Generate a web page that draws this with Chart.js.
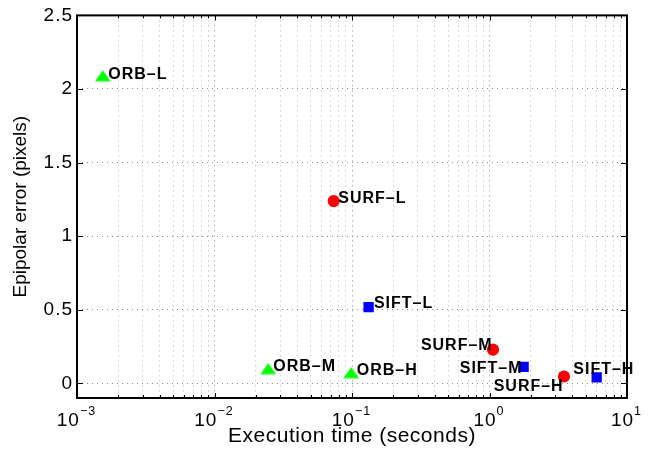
<!DOCTYPE html>
<html>
<head>
<meta charset="utf-8">
<script src="https://cdn.jsdelivr.net/npm/chart.js@4.4.1/dist/chart.umd.min.js"></script>
<style>
  html, body { margin: 0; padding: 0; background: #ffffff; }
  #c { display: block; }
</style>
</head>
<body>
<canvas id="c" width="662" height="453"></canvas>
<script>
// ---------------- data ----------------
const orbLabels  = ['ORB–L', 'ORB–M', 'ORB–H'];
const orbTime    = [0.00154, 0.0246, 0.0987];
const orbError   = [2.09, 0.100, 0.073];

const surfLabels = ['SURF–L', 'SURF–M', 'SURF–H'];
const surfTime   = [0.0736, 1.06, 3.48];
const surfError  = [1.238, 0.229, 0.046];

const siftLabels = ['SIFT–L', 'SIFT–M', 'SIFT–H'];
const siftTime   = [0.132, 1.77, 6.02];
const siftError  = [0.517, 0.112, 0.040];

const yTickValues      = [0, 0.5, 1, 1.5, 2, 2.5];
const xDecadeExponents = [-3, -2, -1, 0, 1];
const xAxisTitle = 'Execution time (seconds)';
const yAxisTitle = 'Epipolar error (pixels)';

// ---------------- styles ----------------
const FONT = '"Liberation Sans", Arial, Helvetica, sans-serif';
const majorGrid = '#8c8c8c';
const minorGrid = '#b4b4b4';
const labelPlacement = [
  [{dx: 5.4, dy: -2.2, align: 'left'}, {dx: 5.0, dy: -3.4, align: 'left'}, {dx: 5.5, dy: -3.3, align: 'left'}],
  [{dx: 4.6, dy: -4.2, align: 'left'}, {dx: -1.3, dy: -5.0, align: 'right'}, {dx: -1.3, dy: 8.7, align: 'right'}],
  [{dx: 5.3, dy: -5.0, align: 'left'}, {dx: -2.0, dy: 0.5, align: 'right'}, {dx: -23.4, dy: -9.1, align: 'left'}]
];
const pointLabels = [orbLabels, surfLabels, siftLabels];

// log-axis tick positions (1..9 per decade)
const xTickValues = [];
for (let i = 0; i < xDecadeExponents.length - 1; i++) {
  for (let m = 1; m <= 9; m++) xTickValues.push(Number((m * Math.pow(10, xDecadeExponents[i])).toPrecision(6)));
}
xTickValues.push(Math.pow(10, xDecadeExponents[xDecadeExponents.length - 1]));
const isDecade = v => Math.abs(Math.log10(v) - Math.round(Math.log10(v))) < 1e-9;

function triangleMarker(color, w, h) {
  const c = document.createElement('canvas');
  c.width = w; c.height = h;
  const g = c.getContext('2d');
  g.fillStyle = color;
  g.beginPath();
  g.moveTo(w / 2, 0.5);
  g.lineTo(w - 0.2, h - 0.5);
  g.lineTo(0.2, h - 0.5);
  g.closePath();
  g.fill();
  return c;
}

const toPoints = (xs, ys) => xs.map((t, i) => ({x: t, y: ys[i]}));

// ---------------- plugins ----------------
const spacingPatch = {
  id: 'spacingPatch',
  beforeDraw(chart) {
    const ys = chart.scales.y, xs = chart.scales.x;
    if (!ys.__patched) {
      const o = ys.drawLabels;
      ys.drawLabels = function (a) { this.ctx.save(); this.ctx.letterSpacing = '1px'; o.call(this, a); this.ctx.restore(); };
      ys.__patched = true;
    }
    if (!xs.__patched) {
      const o = xs.drawTitle;
      xs.drawTitle = function () { this.ctx.save(); this.ctx.letterSpacing = '0.5px'; o.call(this); this.ctx.restore(); };
      xs.__patched = true;
    }
  }
};

const pointLabelPlugin = {
  id: 'pointLabels',
  afterDatasetsDraw(chart) {
    const ctx = chart.ctx;
    ctx.save();
    ctx.font = 'bold 16px ' + FONT;
    ctx.letterSpacing = '1px';
    ctx.fillStyle = '#000';
    ctx.textAlign = 'left';
    ctx.textBaseline = 'alphabetic';
    chart.data.datasets.forEach((ds, d) => {
      const meta = chart.getDatasetMeta(d);
      meta.data.forEach((el, i) => {
        const txt = pointLabels[d][i];
        const p = labelPlacement[d][i];
        const w = ctx.measureText(txt).width;
        let x = el.x + p.dx;
        if (p.align === 'right') x = x - w + 1;
        const y = el.y + p.dy + 5.8;
        ctx.fillText(txt, x, y);
      });
    });
    ctx.restore();
  }
};

const axesPlugin = {
  id: 'matlabAxes',
  afterDraw(chart) {
    const ctx = chart.ctx;
    const a = chart.chartArea;
    const xs = chart.scales.x, ys = chart.scales.y;
    ctx.save();
    // inward tick marks
    ctx.strokeStyle = '#000';
    ctx.lineWidth = 1;
    ctx.beginPath();
    yTickValues.forEach(v => {
      const py = Math.round(ys.getPixelForValue(v)) + 0.5;
      ctx.moveTo(a.left, py); ctx.lineTo(a.left + 6, py);
      ctx.moveTo(a.right, py); ctx.lineTo(a.right - 6, py);
    });
    xTickValues.forEach(v => {
      const px = Math.round(xs.getPixelForValue(v)) + 0.5;
      const len = isDecade(v) ? 5 : 3;
      ctx.moveTo(px, a.bottom); ctx.lineTo(px, a.bottom - len);
      ctx.moveTo(px, a.top); ctx.lineTo(px, a.top + len);
    });
    ctx.stroke();
    // box
    ctx.lineWidth = 2;
    ctx.strokeRect(a.left, a.top, a.right - a.left, a.bottom - a.top);
    // x tick labels 10^n
    ctx.fillStyle = '#000';
    ctx.textAlign = 'left';
    ctx.textBaseline = 'alphabetic';
    ctx.letterSpacing = '1px';
    xDecadeExponents.forEach(e => {
      const px = xs.getPixelForValue(Math.pow(10, e));
      const expStr = (e < 0 ? '\u2212' : '') + Math.abs(e);
      ctx.font = '19px ' + FONT;
      const w1 = ctx.measureText('10').width;
      ctx.font = '12.5px ' + FONT;
      const w2 = ctx.measureText(expStr).width;
      const start = px - (w1 + w2) / 2 - 0.5;
      ctx.font = '19px ' + FONT;
      ctx.fillText('10', start, a.bottom + 27.5);
      ctx.font = '12.5px ' + FONT;
      ctx.fillText(expStr, start + w1, a.bottom + 17);
    });
    ctx.restore();
  }
};

// ---------------- chart ----------------
Chart.defaults.font.family = FONT;
new Chart(document.getElementById('c'), {
  type: 'scatter',
  data: {
    datasets: [
      {
        label: 'ORB',
        data: toPoints(orbTime, orbError),
        pointStyle: triangleMarker('#00ff00', 16, 12),
        pointRadius: 8,
        backgroundColor: '#00ff00',
        borderColor: '#00ff00',
        borderWidth: 0
      },
      {
        label: 'SURF',
        data: toPoints(surfTime, surfError),
        pointStyle: 'circle',
        pointRadius: 6.1,
        backgroundColor: '#ff0000',
        borderColor: '#ff0000',
        borderWidth: 0
      },
      {
        label: 'SIFT',
        data: toPoints(siftTime, siftError),
        pointStyle: 'rect',
        pointRadius: 7.3,
        backgroundColor: '#0000ff',
        borderColor: '#0000ff',
        borderWidth: 0
      }
    ]
  },
  options: {
    responsive: false,
    animation: false,
    devicePixelRatio: 1,
    events: [],
    layout: { padding: { top: 12, right: 35, left: 0, bottom: 0 } },
    plugins: { legend: { display: false }, tooltip: { enabled: false } },
    scales: {
      x: {
        type: 'logarithmic',
        position: 'bottom',
        min: 0.001,
        max: 10,
        afterBuildTicks: s => { s.ticks = xTickValues.map(v => ({ value: v, major: isDecade(v) })); },
        afterFit: s => { s.height = 55; },
        ticks: { display: false, autoSkip: false },
        grid: {
          color: c => (c.tick && c.tick.major) ? majorGrid : minorGrid,
          lineWidth: 1,
          drawTicks: false
        },
        border: { display: false, dash: [1, 4] },
        title: {
          display: true,
          text: xAxisTitle,
          color: '#000',
          font: { family: FONT, size: 21 },
          padding: { top: 0, bottom: 3.7 }
        }
      },
      y: {
        type: 'linear',
        position: 'left',
        min: -0.1,
        max: 2.5,
        afterBuildTicks: s => { s.ticks = yTickValues.map(v => ({ value: v })); },
        afterFit: s => { s.width = 77; },
        ticks: {
          autoSkip: false,
          padding: 4,
          color: '#000',
          font: { family: FONT, size: 19 },
          callback: v => String(v)
        },
        grid: { color: majorGrid, lineWidth: 1, drawTicks: false },
        border: { display: false, dash: [1, 4] },
        title: {
          display: true,
          text: yAxisTitle,
          color: '#000',
          font: { family: FONT, size: 19 },
          padding: { top: 9.3, bottom: 0 }
        }
      }
    }
  },
  plugins: [spacingPatch, pointLabelPlugin, axesPlugin]
});
</script>
</body>
</html>
